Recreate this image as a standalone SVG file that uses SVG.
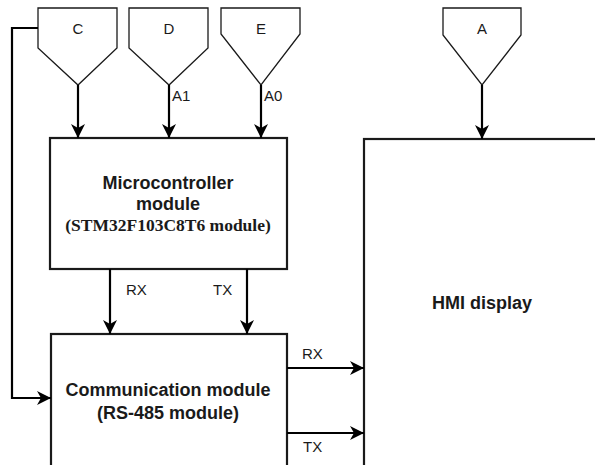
<svg xmlns="http://www.w3.org/2000/svg" width="595" height="465" viewBox="0 0 595 465">
<defs>
<marker id="arr" markerUnits="userSpaceOnUse" markerWidth="16" markerHeight="16" viewBox="-14 -8 16 16" refX="0" refY="0" orient="auto">
<path d="M0,0 L-14,-7 L-10,0 L-14,7 Z" fill="#000"/>
</marker>
</defs>
<style>
.box{fill:#fff;stroke:#1a1a1a;stroke-width:2.2}
.pent{fill:#fff;stroke:#1a1a1a;stroke-width:1.3}
.ln{fill:none;stroke:#000;stroke-width:2.2}
.big{font-family:"Liberation Sans",Arial,sans-serif;font-weight:bold;font-size:18px;fill:#1a1a1a;text-anchor:middle}
.ser{font-family:"Liberation Serif","Times New Roman",serif;font-weight:bold;font-size:17.5px;fill:#1a1a1a;text-anchor:middle}
.sm{font-family:"Liberation Sans",Arial,sans-serif;font-size:15px;fill:#1a1a1a}
.lt{font-family:"Liberation Sans",Arial,sans-serif;font-size:15px;fill:#1a1a1a;text-anchor:middle}
</style>
<rect width="595" height="465" fill="#fff"/>
<g id="C"><path class="pent" d="M38,8 L117,8 L117,48 L78,85 L38,48 Z"/><text class="lt" x="78" y="34">C</text></g>
<g id="D"><path class="pent" d="M129,8 L208,8 L208,48 L169,85 L129,48 Z"/><text class="lt" x="169" y="34">D</text></g>
<g id="E"><path class="pent" d="M221,8 L300,8 L300,34 L261,85 L221,34 Z"/><text class="lt" x="261" y="34">E</text></g>
<g id="A"><path class="pent" d="M443,8 L521,8 L521,35 L482,85 L443,35 Z"/><text class="lt" x="482" y="34">A</text></g>
<g id="mcu"><rect class="box" x="50" y="138" width="237" height="131"/>
<text class="big" x="168" y="189">Microcontroller</text>
<text class="big" x="168" y="210">module</text>
<text class="ser" x="168" y="231">(STM32F103C8T6 module)</text></g>
<g id="comm"><rect class="box" x="51" y="334" width="236" height="140"/>
<text class="big" x="168" y="396">Communication module</text>
<text class="big" x="168" y="419">(RS-485 module)</text></g>
<g id="hmi"><rect class="box" x="364" y="139" width="240" height="335"/>
<text class="big" x="482" y="309">HMI display</text></g>
<g id="connectors">
<path class="ln" d="M78,85 V138" marker-end="url(#arr)"/>
<path class="ln" d="M169,85 V138" marker-end="url(#arr)"/>
<path class="ln" d="M261,85 V138" marker-end="url(#arr)"/>
<path class="ln" d="M482,85 V139" marker-end="url(#arr)"/>
<path class="ln" d="M110,269 V334" marker-end="url(#arr)"/>
<path class="ln" d="M247,269 V334" marker-end="url(#arr)"/>
<path class="ln" d="M38,28 H12 V398 H51" marker-end="url(#arr)"/>
<path class="ln" d="M287,368 H364" marker-end="url(#arr)"/>
<path class="ln" d="M287,433 H364" marker-end="url(#arr)"/>
<text class="sm" x="172" y="101">A1</text>
<text class="sm" x="264" y="101">A0</text>
<text class="sm" x="126" y="295">RX</text>
<text class="sm" x="213" y="295">TX</text>
<text class="sm" x="302" y="359">RX</text>
<text class="sm" x="303" y="452">TX</text>
</g>
</svg>
